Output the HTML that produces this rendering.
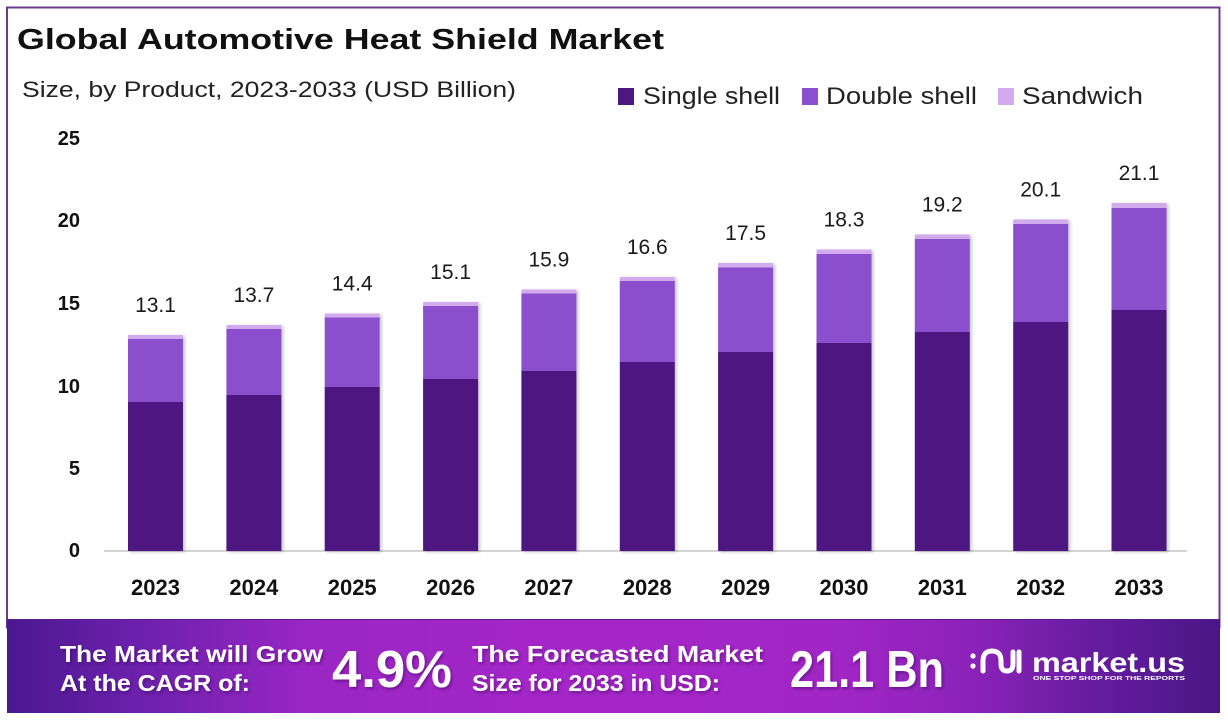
<!DOCTYPE html>
<html>
<head>
<meta charset="utf-8">
<style>
html,body{margin:0;padding:0;background:#ffffff;}
svg{display:block;}
text{font-family:"Liberation Sans",Arial,sans-serif;}
</style>
</head>
<body>
<svg width="1228" height="720" viewBox="0 0 1228 720" xmlns="http://www.w3.org/2000/svg">
  <defs>
    <linearGradient id="ban" x1="0" y1="0" x2="1" y2="0">
      <stop offset="0" stop-color="#4a1890"/>
      <stop offset="0.1" stop-color="#6a20aa"/>
      <stop offset="0.25" stop-color="#9a26c4"/>
      <stop offset="0.45" stop-color="#a526c8"/>
      <stop offset="0.68" stop-color="#a226c6"/>
      <stop offset="0.8" stop-color="#8a22b8"/>
      <stop offset="0.9" stop-color="#641c9e"/>
      <stop offset="1" stop-color="#4a1686"/>
    </linearGradient>
    <filter id="sh" x="-10%" y="-10%" width="130%" height="120%">
      <feDropShadow dx="2" dy="1" stdDeviation="1.5" flood-color="#000" flood-opacity="0.22"/>
    </filter>
    <filter id="tsh" x="-10%" y="-10%" width="130%" height="140%">
      <feDropShadow dx="1.5" dy="2" stdDeviation="1.5" flood-color="#2a0050" flood-opacity="0.45"/>
    </filter>
  </defs>

  <!-- frame -->
  <rect x="0" y="0" width="1228" height="720" fill="#ffffff"/>
  <rect x="7" y="7.5" width="1212.5" height="620" fill="#ffffff" stroke="#6b3a8e" stroke-width="2"/>

  <!-- title -->
  <text x="17" y="49" font-size="29" font-weight="bold" fill="#111" textLength="647" lengthAdjust="spacingAndGlyphs">Global Automotive Heat Shield Market</text>
  <text x="22" y="97" font-size="22" fill="#222" textLength="494" lengthAdjust="spacingAndGlyphs">Size, by Product, 2023-2033 (USD Billion)</text>

  <!-- legend -->
  <rect x="618" y="88" width="16" height="17" fill="#4e1681"/>
  <text x="643" y="104" font-size="24" fill="#222" textLength="137" lengthAdjust="spacingAndGlyphs">Single shell</text>
  <rect x="802" y="88" width="16" height="17" fill="#8b50cd"/>
  <text x="826" y="104" font-size="24" fill="#222" textLength="151" lengthAdjust="spacingAndGlyphs">Double shell</text>
  <rect x="998" y="88" width="16" height="17" fill="#d2abef"/>
  <text x="1022" y="104" font-size="24" fill="#222" textLength="121" lengthAdjust="spacingAndGlyphs">Sandwich</text>

  <!-- y axis labels -->
  <g font-size="20" font-weight="bold" fill="#111" text-anchor="end">
    <text x="80" y="145">25</text>
    <text x="80" y="227">20</text>
    <text x="80" y="310">15</text>
    <text x="80" y="393">10</text>
    <text x="80" y="475">5</text>
    <text x="80" y="557">0</text>
  </g>

  <!-- axis line -->
  <line x1="104" y1="551" x2="1187" y2="551" stroke="#d4d4d4" stroke-width="2"/>

  <!-- bars -->
  <g filter="url(#sh)">
    <!-- 2023 -->
    <rect x="128" y="335" width="55" height="4" fill="#d2abef"/>
    <rect x="128" y="339" width="55" height="63" fill="#8b50cd"/>
    <rect x="128" y="402" width="55" height="149" fill="#4e1681"/>
    <!-- 2024 -->
    <rect x="226.4" y="325" width="55" height="4" fill="#d2abef"/>
    <rect x="226.4" y="329" width="55" height="66" fill="#8b50cd"/>
    <rect x="226.4" y="395" width="55" height="156" fill="#4e1681"/>
    <!-- 2025 -->
    <rect x="324.7" y="313.5" width="55" height="4" fill="#d2abef"/>
    <rect x="324.7" y="317.5" width="55" height="69.5" fill="#8b50cd"/>
    <rect x="324.7" y="387" width="55" height="164" fill="#4e1681"/>
    <!-- 2026 -->
    <rect x="423.1" y="302" width="55" height="4" fill="#d2abef"/>
    <rect x="423.1" y="306" width="55" height="73" fill="#8b50cd"/>
    <rect x="423.1" y="379" width="55" height="172" fill="#4e1681"/>
    <!-- 2027 -->
    <rect x="521.4" y="289.5" width="55" height="4" fill="#d2abef"/>
    <rect x="521.4" y="293.5" width="55" height="77.5" fill="#8b50cd"/>
    <rect x="521.4" y="371" width="55" height="180" fill="#4e1681"/>
    <!-- 2028 -->
    <rect x="619.8" y="277" width="55" height="4" fill="#d2abef"/>
    <rect x="619.8" y="281" width="55" height="81" fill="#8b50cd"/>
    <rect x="619.8" y="362" width="55" height="189" fill="#4e1681"/>
    <!-- 2029 -->
    <rect x="718.1" y="263" width="55" height="4.5" fill="#d2abef"/>
    <rect x="718.1" y="267.5" width="55" height="84.5" fill="#8b50cd"/>
    <rect x="718.1" y="352" width="55" height="199" fill="#4e1681"/>
    <!-- 2030 -->
    <rect x="816.5" y="249.5" width="55" height="4.5" fill="#d2abef"/>
    <rect x="816.5" y="254" width="55" height="89" fill="#8b50cd"/>
    <rect x="816.5" y="343" width="55" height="208" fill="#4e1681"/>
    <!-- 2031 -->
    <rect x="914.8" y="234.5" width="55" height="4.5" fill="#d2abef"/>
    <rect x="914.8" y="239" width="55" height="93" fill="#8b50cd"/>
    <rect x="914.8" y="332" width="55" height="219" fill="#4e1681"/>
    <!-- 2032 -->
    <rect x="1013.2" y="219.5" width="55" height="4.5" fill="#d2abef"/>
    <rect x="1013.2" y="224" width="55" height="98" fill="#8b50cd"/>
    <rect x="1013.2" y="322" width="55" height="229" fill="#4e1681"/>
    <!-- 2033 -->
    <rect x="1111.5" y="203" width="55" height="5" fill="#d2abef"/>
    <rect x="1111.5" y="208" width="55" height="102" fill="#8b50cd"/>
    <rect x="1111.5" y="310" width="55" height="241" fill="#4e1681"/>
  </g>

  <!-- value labels -->
  <g font-size="21" fill="#1a1a1a" text-anchor="middle">
    <text x="155.5" y="312">13.1</text>
    <text x="253.9" y="302">13.7</text>
    <text x="352.2" y="290.5">14.4</text>
    <text x="450.6" y="279">15.1</text>
    <text x="548.9" y="266.5">15.9</text>
    <text x="647.3" y="254">16.6</text>
    <text x="745.6" y="240">17.5</text>
    <text x="844" y="226.5">18.3</text>
    <text x="942.3" y="211.5">19.2</text>
    <text x="1040.7" y="196.5">20.1</text>
    <text x="1139" y="180">21.1</text>
  </g>

  <!-- x labels -->
  <g font-size="22" font-weight="bold" fill="#111" text-anchor="middle">
    <text x="155.5" y="595">2023</text>
    <text x="253.9" y="595">2024</text>
    <text x="352.2" y="595">2025</text>
    <text x="450.6" y="595">2026</text>
    <text x="548.9" y="595">2027</text>
    <text x="647.3" y="595">2028</text>
    <text x="745.6" y="595">2029</text>
    <text x="844" y="595">2030</text>
    <text x="942.3" y="595">2031</text>
    <text x="1040.7" y="595">2032</text>
    <text x="1139" y="595">2033</text>
  </g>

  <!-- banner -->
  <rect x="7" y="619" width="1213" height="94" fill="url(#ban)"/>
  <line x1="7" y1="619.5" x2="1220" y2="619.5" stroke="#5a1a90" stroke-width="1"/>

  <g fill="#ffffff" font-weight="bold" filter="url(#tsh)">
    <text x="60" y="662" font-size="23" textLength="263" lengthAdjust="spacingAndGlyphs">The Market will Grow</text>
    <text x="60" y="691" font-size="23" textLength="190" lengthAdjust="spacingAndGlyphs">At the CAGR of:</text>
    <text x="332" y="687" font-size="52" textLength="120" lengthAdjust="spacingAndGlyphs">4.9%</text>
    <text x="472" y="662" font-size="23" textLength="291" lengthAdjust="spacingAndGlyphs">The Forecasted Market</text>
    <text x="472" y="691" font-size="23" textLength="248" lengthAdjust="spacingAndGlyphs">Size for 2033 in USD:</text>
    <text x="790" y="687" font-size="52" textLength="154" lengthAdjust="spacingAndGlyphs">21.1 Bn</text>
  </g>

  <!-- logo -->
  <g fill="none" stroke="#ffffff" stroke-width="5" stroke-linecap="round">
    <path d="M983,671 L983,661 Q983,651 992,651 Q1001,651 1001,661 L1001,664 Q1001,671 1007,671 Q1013,671 1013,664 L1013,652"/>
    <path d="M1019,652 L1019,671"/>
  </g>
  <circle cx="973" cy="656" r="2.6" fill="#ffffff"/>
  <circle cx="973" cy="666" r="2.6" fill="#ffffff"/>
  <text x="1032" y="672" font-size="28" font-weight="bold" fill="#ffffff" textLength="153" lengthAdjust="spacingAndGlyphs">market.us</text>
  <text x="1033" y="680" font-size="5.5" font-weight="bold" fill="#ffffff" textLength="152" lengthAdjust="spacingAndGlyphs">ONE STOP SHOP FOR THE REPORTS</text>
</svg>
</body>
</html>
